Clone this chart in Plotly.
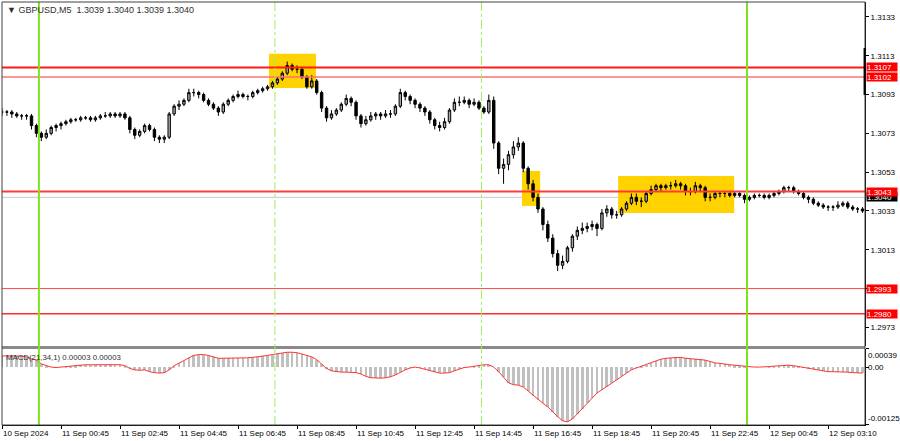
import plotly.graph_objects as go

# ---------------- data ----------------
SYMBOL_TEXT = "\u25bc GBPUSD,M5&nbsp;&nbsp;1.3039 1.3040 1.3039 1.3040"
MACD_TEXT = "MACD(21,34,1) 0.00003 0.00003"

BAR_STEP = 2          # each candle below spans two M5 bars
OPEN_FIRST = 1.3084

CLOSE = [
    1.3084, 1.3084, 1.3083, 1.3082, 1.3082, 1.3082, 1.3077, 1.3073, 1.3071, 1.3073,
    1.3076, 1.3077, 1.3078, 1.3079, 1.3080, 1.3080, 1.3081, 1.3081, 1.3080, 1.3081,
    1.3082, 1.3082, 1.3083, 1.3082, 1.3083, 1.3081, 1.3075, 1.3072, 1.3074, 1.3077,
    1.3075, 1.3071, 1.3070, 1.3071, 1.3083, 1.3087, 1.3088, 1.3090, 1.3094, 1.3094,
    1.3093, 1.3090, 1.3088, 1.3086, 1.3084, 1.3088, 1.3090, 1.3092, 1.3093, 1.3092,
    1.3092, 1.3094, 1.3095, 1.3096, 1.3097, 1.3099, 1.3101, 1.3104, 1.3108, 1.3106,
    1.3106, 1.3102, 1.3097, 1.3100, 1.3094, 1.3086, 1.3081, 1.3083, 1.3085, 1.3088,
    1.3091, 1.3089, 1.3082, 1.3078, 1.3080, 1.3082, 1.3083, 1.3082, 1.3083, 1.3083,
    1.3087, 1.3094, 1.3092, 1.3090, 1.3088, 1.3086, 1.3084, 1.3080, 1.3077, 1.3076,
    1.3079, 1.3085, 1.3089, 1.3089, 1.3090, 1.3088, 1.3089, 1.3086, 1.3084, 1.3090,
    1.3068, 1.3055, 1.3057, 1.3062, 1.3066, 1.3068, 1.3055, 1.3047, 1.3040, 1.3034,
    1.3026, 1.3019, 1.3011, 1.3005, 1.3007, 1.3014, 1.3020, 1.3023, 1.3024, 1.3025,
    1.3026, 1.3024, 1.3032, 1.3034, 1.3031, 1.3031, 1.3034, 1.3037, 1.3040, 1.3038,
    1.3038, 1.3042, 1.3044, 1.3046, 1.3045, 1.3046, 1.3046, 1.3047, 1.3046, 1.3043,
    1.3043, 1.3046, 1.3045, 1.3040, 1.3040, 1.3042, 1.3042, 1.3042, 1.3041, 1.3042,
    1.3041, 1.3039, 1.3040, 1.3041, 1.3041, 1.3040, 1.3041, 1.3042, 1.3043, 1.3045,
    1.3045, 1.3043, 1.3042, 1.3040, 1.3039, 1.3037, 1.3036, 1.3035, 1.3035, 1.3035,
    1.3036, 1.3037, 1.3035, 1.3034, 1.3034, 1.3033,
]

HIGH = [
    1.3086, 1.3085, 1.3085, 1.3084, 1.3083, 1.3083, 1.3083, 1.3078, 1.3074, 1.3075,
    1.3077, 1.3078, 1.3079, 1.3080, 1.3081, 1.3081, 1.3082, 1.3082, 1.3082, 1.3082,
    1.3083, 1.3084, 1.3084, 1.3084, 1.3084, 1.3084, 1.3082, 1.3076, 1.3075, 1.3078,
    1.3078, 1.3076, 1.3072, 1.3072, 1.3084, 1.3088, 1.3090, 1.3091, 1.3096, 1.3096,
    1.3095, 1.3094, 1.3091, 1.3089, 1.3087, 1.3089, 1.3091, 1.3093, 1.3095, 1.3094,
    1.3093, 1.3095, 1.3096, 1.3097, 1.3098, 1.3100, 1.3102, 1.3105, 1.3110, 1.3109,
    1.3108, 1.3107, 1.3103, 1.3103, 1.3101, 1.3095, 1.3087, 1.3085, 1.3086, 1.3089,
    1.3093, 1.3092, 1.3090, 1.3083, 1.3082, 1.3084, 1.3084, 1.3084, 1.3085, 1.3085,
    1.3088, 1.3096, 1.3095, 1.3093, 1.3091, 1.3089, 1.3087, 1.3085, 1.3081, 1.3079,
    1.3081, 1.3086, 1.3091, 1.3092, 1.3092, 1.3091, 1.3091, 1.3090, 1.3087, 1.3093,
    1.3092, 1.3069, 1.3060, 1.3064, 1.3069, 1.3071, 1.3069, 1.3056, 1.3049, 1.3042,
    1.3035, 1.3028, 1.3021, 1.3013, 1.3010, 1.3015, 1.3021, 1.3025, 1.3027, 1.3027,
    1.3028, 1.3027, 1.3034, 1.3036, 1.3035, 1.3033, 1.3035, 1.3038, 1.3042, 1.3042,
    1.3040, 1.3043, 1.3046, 1.3047, 1.3047, 1.3047, 1.3048, 1.3049, 1.3048, 1.3047,
    1.3045, 1.3048, 1.3047, 1.3046, 1.3042, 1.3043, 1.3043, 1.3043, 1.3043, 1.3043,
    1.3043, 1.3042, 1.3041, 1.3042, 1.3042, 1.3042, 1.3042, 1.3043, 1.3044, 1.3046,
    1.3046, 1.3046, 1.3044, 1.3043, 1.3041, 1.3040, 1.3038, 1.3037, 1.3036, 1.3036,
    1.3038, 1.3038, 1.3038, 1.3036, 1.3035, 1.3035,
]

LOW = [
    1.3082, 1.3082, 1.3081, 1.3081, 1.3080, 1.3080, 1.3075, 1.3071, 1.3069, 1.3070,
    1.3072, 1.3074, 1.3075, 1.3077, 1.3078, 1.3079, 1.3079, 1.3080, 1.3079, 1.3079,
    1.3080, 1.3081, 1.3081, 1.3081, 1.3081, 1.3080, 1.3073, 1.3070, 1.3071, 1.3073,
    1.3074, 1.3069, 1.3068, 1.3068, 1.3070, 1.3082, 1.3085, 1.3087, 1.3089, 1.3092,
    1.3091, 1.3089, 1.3087, 1.3085, 1.3082, 1.3083, 1.3087, 1.3089, 1.3091, 1.3091,
    1.3090, 1.3091, 1.3093, 1.3094, 1.3095, 1.3096, 1.3098, 1.3100, 1.3103, 1.3105,
    1.3104, 1.3101, 1.3096, 1.3096, 1.3093, 1.3084, 1.3079, 1.3080, 1.3082, 1.3084,
    1.3087, 1.3087, 1.3080, 1.3076, 1.3077, 1.3079, 1.3080, 1.3080, 1.3081, 1.3081,
    1.3082, 1.3086, 1.3090, 1.3088, 1.3086, 1.3084, 1.3082, 1.3078, 1.3075, 1.3074,
    1.3075, 1.3078, 1.3084, 1.3087, 1.3088, 1.3086, 1.3087, 1.3085, 1.3083, 1.3083,
    1.3065, 1.3052, 1.3047, 1.3054, 1.3060, 1.3064, 1.3053, 1.3044, 1.3038, 1.3032,
    1.3023, 1.3017, 1.3009, 1.3002, 1.3003, 1.3006, 1.3012, 1.3018, 1.3021, 1.3022,
    1.3023, 1.3020, 1.3023, 1.3030, 1.3029, 1.3029, 1.3030, 1.3033, 1.3036, 1.3036,
    1.3035, 1.3037, 1.3041, 1.3043, 1.3043, 1.3044, 1.3044, 1.3045, 1.3044, 1.3041,
    1.3041, 1.3042, 1.3043, 1.3038, 1.3038, 1.3039, 1.3040, 1.3040, 1.3040, 1.3040,
    1.3040, 1.3037, 1.3038, 1.3039, 1.3040, 1.3039, 1.3039, 1.3040, 1.3041, 1.3042,
    1.3043, 1.3042, 1.3041, 1.3039, 1.3037, 1.3036, 1.3035, 1.3034, 1.3033, 1.3033,
    1.3034, 1.3035, 1.3034, 1.3033, 1.3032, 1.3032,
]

MACD = [
    0.00024, 0.00024, 0.00025, 0.00024, 0.00023, 0.00022, 0.00018, 0.00015, 0.00007, 0.00003,
    0.00000, -0.00001, 0.00000, 0.00001, 0.00002, 0.00004, 0.00005, 0.00005, 0.00005, 0.00005,
    0.00005, 0.00005, 0.00006, 0.00005, 0.00005, 0.00003, -0.00003, -0.00006, -0.00007, -0.00006,
    -0.00010, -0.00012, -0.00013, -0.00012, -0.00006, 0.00003, 0.00008, 0.00014, 0.00020, 0.00025,
    0.00027, 0.00027, 0.00025, 0.00022, 0.00019, 0.00019, 0.00019, 0.00020, 0.00019, 0.00019,
    0.00020, 0.00021, 0.00022, 0.00023, 0.00025, 0.00027, 0.00029, 0.00030, 0.00032, 0.00032,
    0.00031, 0.00028, 0.00025, 0.00022, 0.00016, 0.00006, -0.00003, -0.00008, -0.00010, -0.00011,
    -0.00011, -0.00011, -0.00012, -0.00015, -0.00020, -0.00023, -0.00024, -0.00024, -0.00023, -0.00021,
    -0.00017, -0.00011, -0.00006, -0.00002, 0.00000, -0.00002, -0.00005, -0.00008, -0.00011, -0.00013,
    -0.00013, -0.00012, -0.00008, -0.00004, -0.00001, 0.00000, 0.00002, 0.00004, 0.00005, 0.00005,
    0.00000, -0.00010, -0.00022, -0.00034, -0.00038, -0.00039, -0.00043, -0.00052, -0.00062, -0.00070,
    -0.00078, -0.00086, -0.00097, -0.00107, -0.00116, -0.00118, -0.00112, -0.00101, -0.00090, -0.00078,
    -0.00066, -0.00056, -0.00049, -0.00042, -0.00034, -0.00027, -0.00020, -0.00013, -0.00006, -0.00002,
    0.00002, 0.00005, 0.00009, 0.00013, 0.00017, 0.00019, 0.00020, 0.00021, 0.00021, 0.00019,
    0.00018, 0.00018, 0.00017, 0.00015, 0.00012, 0.00009, 0.00008, 0.00006, 0.00005, 0.00004,
    0.00003, 0.00002, 0.00000, 0.00000, 0.00000, 0.00000, 0.00001, 0.00002, 0.00003, 0.00004,
    0.00004, 0.00003, 0.00001, -0.00001, -0.00003, -0.00005, -0.00006, -0.00008, -0.00010, -0.00010,
    -0.00010, -0.00011, -0.00011, -0.00012, -0.00013, -0.00013,
]

# time axis (index of M5 bar from the left edge)
TICK_BARS = [0, 24, 48, 72, 96, 120, 144, 168, 192, 216, 240, 264, 288, 312, 336]
TICK_TEXT = ["10 Sep 2024", "11 Sep 00:45", "11 Sep 02:45", "11 Sep 04:45", "11 Sep 06:45",
             "11 Sep 08:45", "11 Sep 10:45", "11 Sep 12:45", "11 Sep 14:45", "11 Sep 16:45",
             "11 Sep 18:45", "11 Sep 20:45", "11 Sep 22:45", "12 Sep 00:45", "12 Sep 03:10"]
X_RANGE = [0, 351]

PRICE_TICKS = [1.3133, 1.3113, 1.3093, 1.3073, 1.3053, 1.3033, 1.3013, 1.2993, 1.2973]
PRICE_RANGE = [1.29634, 1.31407]
MACD_TICKS = [0.00039, 0.0, -0.00125]
MACD_TICK_TEXT = ["0.00039", "0.00", "-0.00125"]
MACD_RANGE = [-0.00125, 0.00039]

LEVELS = [1.3107, 1.3102, 1.3043, 1.2993, 1.2980]
LEVEL_COLORS = ["#ff1a1a", "#ff7070", "#ff3a3a", "#ff4a4a", "#ff2a2a"]
LEVEL_WIDTHS = [2, 1.5, 2, 1, 1.5]
BID = 1.3040

DAY_LINES = [15, 303]          # 11 Sep 00:00, 12 Sep 00:00
SESSION_LINES = [111, 195]     # 11 Sep 08:00, 11 Sep 15:00

ZONE_X0 = [108.6, 211.5, 250.6]
ZONE_X1 = [127.7, 218.9, 297.8]
ZONE_Y0 = [1.30964, 1.30356, 1.30320]
ZONE_Y1 = [1.31140, 1.30536, 1.30510]

LAST_SPIKE = [1.30928, 1.31170]

# ---------------- figure ----------------
X = [BAR_STEP * k for k in range(len(CLOSE))]
OPEN = [OPEN_FIRST] + CLOSE[:-1]

FONT = "Liberation Sans, Arial, sans-serif"
PRICE_DOMAIN = [0.1868, 1.0]
MACD_DOMAIN = [0.0, 0.1797]

fig = go.Figure()
fig.add_trace(go.Candlestick(
    x=X, open=OPEN, high=HIGH, low=LOW, close=CLOSE,
    increasing=dict(line=dict(color="black", width=1), fillcolor="#a8a8a8"),
    decreasing=dict(line=dict(color="black", width=1), fillcolor="black"),
    whiskerwidth=0, xaxis="x", yaxis="y", hoverinfo="skip", showlegend=False,
))
fig.add_trace(go.Bar(
    x=X, y=MACD, width=1.1, marker=dict(color="#c0c0c0", line=dict(width=0)),
    xaxis="x", yaxis="y2", hoverinfo="skip", showlegend=False,
))
fig.add_trace(go.Scatter(
    x=X, y=MACD, mode="lines", line=dict(color="#ff3333", width=1),
    xaxis="x", yaxis="y2", hoverinfo="skip", showlegend=False,
))

shapes = []
for x0, x1, y0, y1 in zip(ZONE_X0, ZONE_X1, ZONE_Y0, ZONE_Y1):
    shapes.append(dict(type="rect", xref="x", yref="y", x0=x0, x1=x1, y0=y0, y1=y1,
                       fillcolor="#ffd200", line=dict(width=0), layer="below"))
shapes.append(dict(type="line", xref="paper", yref="y", x0=0, x1=1, y0=BID, y1=BID,
                   line=dict(color="#c8c8c8", width=1), layer="below"))
for lv, c, w in zip(LEVELS, LEVEL_COLORS, LEVEL_WIDTHS):
    shapes.append(dict(type="line", xref="paper", yref="y", x0=0, x1=1, y0=lv, y1=lv,
                       line=dict(color=c, width=w), layer="above"))
# panel separator
sep = (PRICE_DOMAIN[0] + MACD_DOMAIN[1]) / 2
shapes.append(dict(type="line", xref="paper", yref="paper", x0=0, x1=1, y0=sep, y1=sep,
                   line=dict(color="#8a8a8a", width=3), layer="above"))
for xv in SESSION_LINES:
    shapes.append(dict(type="line", xref="x", yref="paper", x0=xv, x1=xv, y0=0, y1=1,
                       line=dict(color="#9cf25a", width=1, dash="dashdot"), layer="above"))
for xv in DAY_LINES:
    shapes.append(dict(type="line", xref="x", yref="paper", x0=xv, x1=xv, y0=0, y1=1,
                       line=dict(color="#7ee21c", width=2), layer="above"))
shapes.append(dict(type="rect", xref="paper", yref="paper", x0=0, x1=1, y0=0, y1=1,
                   line=dict(color="#404040", width=1), layer="above"))
shapes.append(dict(type="line", xref="paper", yref="y", x0=0.9995, x1=0.9995,
                   y0=LAST_SPIKE[0], y1=LAST_SPIKE[1],
                   line=dict(color="black", width=2), layer="above"))

annotations = [
    dict(xref="paper", yref="paper", x=0, y=1, xshift=3, yshift=-1, xanchor="left", yanchor="top",
         text=SYMBOL_TEXT, showarrow=False, font=dict(family=FONT, size=9, color="#303030")),
    dict(xref="paper", yref="paper", x=0, y=MACD_DOMAIN[1], xshift=2, yshift=-2,
         xanchor="left", yanchor="top",
         text=MACD_TEXT, showarrow=False, font=dict(family=FONT, size=7.8, color="#303030")),
]
anchors = ["top", "middle", "bottom"]
for v, t, a in zip(MACD_TICKS, MACD_TICK_TEXT, anchors):
    annotations.append(dict(xref="paper", yref="y2", x=1, y=v, xshift=1, xanchor="left",
                            yanchor=a, text=t, showarrow=False,
                            font=dict(family=FONT, size=8, color="black")))
# current bid label (under the 1.3043 label)
annotations.append(dict(xref="paper", yref="y", x=1, y=BID, xshift=1, xanchor="left",
                        yanchor="middle", text="%.4f" % BID, showarrow=False, align="left",
                        bgcolor="black", width=30, height=8, borderpad=0,
                        font=dict(family=FONT, size=8, color="white")))
for lv in LEVELS:
    annotations.append(dict(xref="paper", yref="y", x=1, y=lv, xshift=1, xanchor="left",
                            yanchor="middle", text="%.4f" % lv, showarrow=False, align="left",
                            bgcolor="#ff0000", width=30, height=8, borderpad=0,
                            font=dict(family=FONT, size=8, color="white")))

fig.update_layout(
    width=900, height=441,
    margin=dict(l=2, r=35, t=2, b=16),
    paper_bgcolor="white", plot_bgcolor="white",
    showlegend=False, bargap=0,
    font=dict(family=FONT, size=8, color="black"),
    xaxis=dict(range=X_RANGE, domain=[0, 1], anchor="y2", tickvals=TICK_BARS, ticktext=TICK_TEXT,
               ticks="outside", ticklen=3, tickcolor="black", showline=True, linecolor="black",
               showgrid=False, zeroline=False, ticklabelposition="outside right",
               tickfont=dict(family=FONT, size=8, color="black"),
               rangeslider=dict(visible=False), fixedrange=True),
    yaxis=dict(domain=PRICE_DOMAIN, range=PRICE_RANGE, side="right", anchor="x",
               tickvals=PRICE_TICKS, tickformat=".4f", ticks="outside", ticklen=3,
               tickcolor="black", showline=True, linecolor="black", showgrid=False,
               zeroline=False, tickfont=dict(family=FONT, size=8, color="black"), fixedrange=True),
    yaxis2=dict(domain=MACD_DOMAIN, range=MACD_RANGE, side="right", anchor="x",
                tickvals=MACD_TICKS, showticklabels=False, ticks="outside", ticklen=3,
                tickcolor="black", showline=True, linecolor="black", showgrid=False,
                zeroline=False, fixedrange=True),
    shapes=shapes,
    annotations=annotations,
)

fig.write_html("out.html", config={"displayModeBar": False},
               post_script="document.body.style.margin='0';document.body.style.overflow='hidden';")
